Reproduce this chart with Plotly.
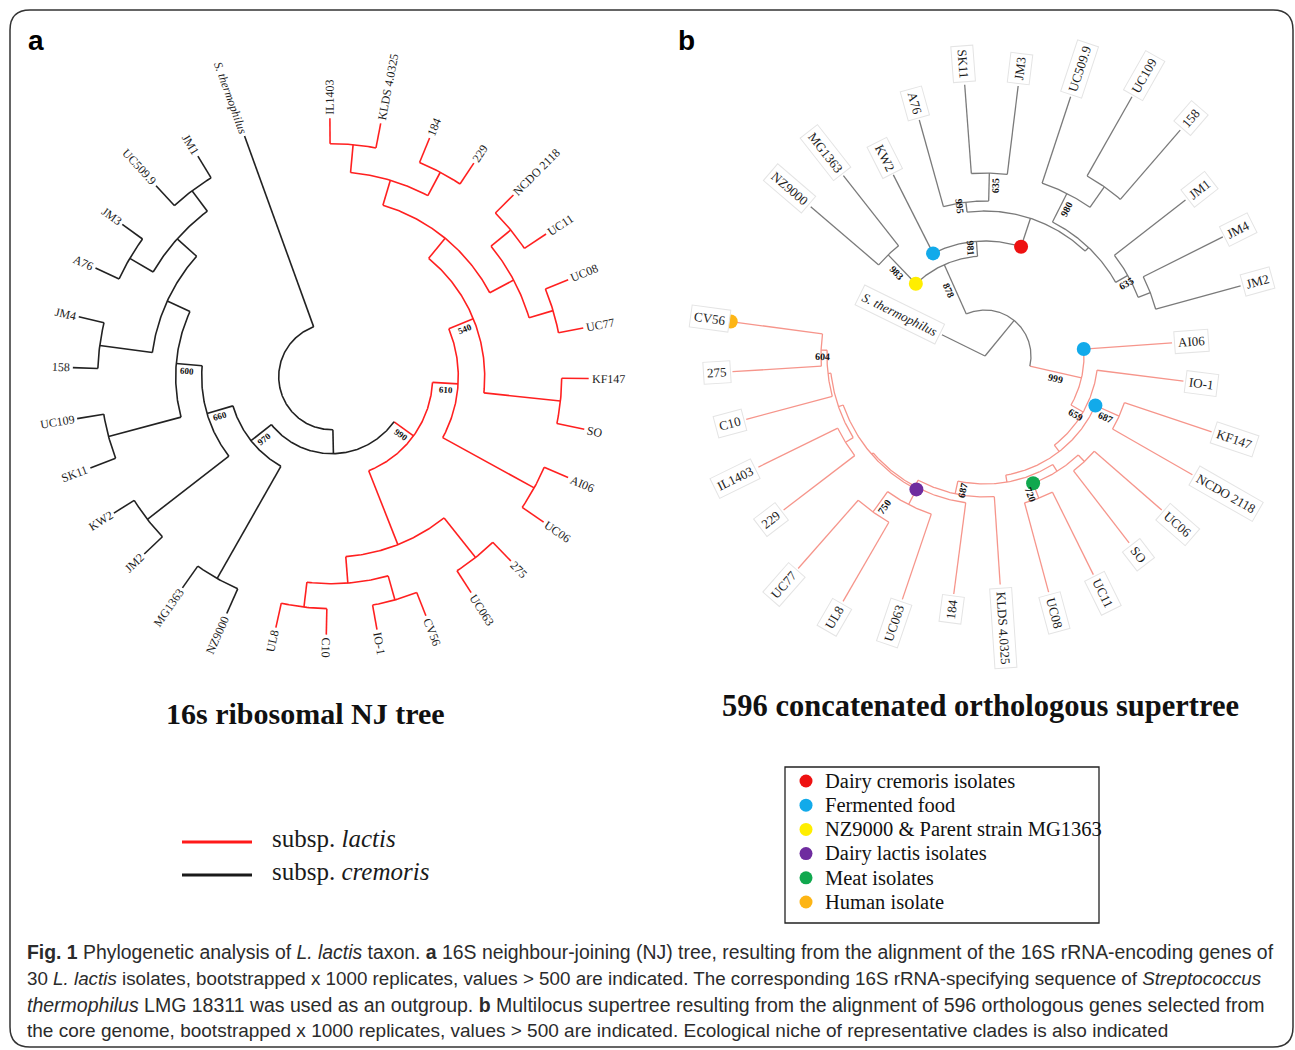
import math
import plotly.graph_objects as go

# ======================= DATA =======================
# ---- Tree a : 16S ribosomal NJ tree (clockwise leaf order) ----
A_LEAVES = ["IL1403", "KLDS 4.0325", "184", "229", "NCDO 2118", "UC11", "UC08", "UC77",
            "KF147", "SO", "AI06", "UC06", "275", "UC063", "CV56", "IO-1", "C10", "UL8",
            "NZ9000", "MG1363", "JM2", "KW2", "SK11", "UC109", "158", "JM4", "A76", "JM3",
            "UC509.9", "JM1", "S. thermophilus"]
A_NODES = ["root", "LL", "cre", "lac", "S. thermophilus",
           "c660", "MGNZ", "NZ9000", "MG1363", "KWJM2", "JM2", "KW2", "c600", "SKUC", "SK11", "UC109",
           "c205", "J4_158", "158", "JM4", "cUp", "A76JM3", "A76", "JM3", "U509JM1", "UC509.9", "JM1",
           "l610", "ln180", "l540", "AIUC06", "AI06", "UC06", "KFSO", "KF147", "SO", "lA", "lA1", "ILKL",
           "IL1403", "KLDS 4.0325", "P184_229", "184", "229", "lA2", "NCUC11", "NCDO 2118", "UC11",
           "UC08_77", "UC08", "UC77",
           "P275_063", "275", "UC063", "ln206", "IOCV", "IO-1", "CV56", "ULC10", "UL8", "C10"]
A_PARENTS = [None, "root", "LL", "LL", "root",
             "cre", "cre", "MGNZ", "MGNZ", "c660", "KWJM2", "KWJM2", "c660", "c600", "SKUC", "SKUC",
             "c600", "c205", "J4_158", "J4_158", "c205", "cUp", "A76JM3", "A76JM3", "cUp", "U509JM1", "U509JM1",
             "lac", "lac", "l610", "l610", "AIUC06", "AIUC06", "l540", "KFSO", "KFSO", "l540", "lA", "lA1",
             "ILKL", "ILKL", "lA1", "P184_229", "P184_229", "lA", "lA2", "NCUC11", "NCUC11",
             "lA2", "UC08_77", "UC08_77",
             "ln180", "P275_063", "P275_063", "ln180", "ln206", "IOCV", "IOCV", "ln206", "ULC10", "ULC10"]
# distance from the tree centre (tree units)
A_DEPTHS = [53, 77, 103, 101, 256,
            130, 232, 259, 258.6, 233, 258, 257, 156, 231, 258, 258,
            181, 234, 259, 260, 207, 234, 260, 259, 232.5, 259.5, 258,
            126.6, 180.5, 153, 231, 257, 257, 230, 257, 258, 179, 205, 233,
            258.4, 258, 231.5, 258, 256.5, 206, 231.5, 257, 257.5,
            231, 255.6, 256.2,
            231, 257, 257, 207, 232, 257, 257, 232, 257, 258]
A_BOOT_NODES = ["cre", "lac", "c660", "c600", "l610", "l540"]
A_BOOT_VALUES = [970, 990, 660, 600, 610, 540]

# ---- Tree b : 596 concatenated orthologous supertree ----
B_LEAVES = ["NZ9000", "MG1363", "KW2", "A76", "SK11", "JM3", "UC509.9", "UC109", "158", "JM1",
            "JM4", "JM2", "AI06", "IO-1", "KF147", "NCDO 2118", "UC06", "SO", "UC11", "UC08",
            "KLDS 4.0325", "184", "UC063", "UL8", "UC77", "229", "IL1403", "C10", "275", "CV56",
            "S. thermophilus"]
B_NODES = ["root", "S. thermophilus", "LL", "c878", "l999",
           "c983", "NZ9000", "MG1363", "c981", "KW2", "cRed", "c995", "A76", "c635a", "SK11", "JM3",
           "cOth", "c980", "UC509.9", "cU158", "UC109", "158", "c635b", "JM1", "cJM", "JM4", "JM2",
           "AI06", "l659", "IO-1", "lN1", "l687", "KF147", "NCDO 2118", "lN3", "lN2", "lUCSO", "UC06", "SO",
           "l720", "UC11", "UC08", "lN4", "KLDS 4.0325", "lN5", "184", "lN8", "lN7", "UC063", "l750",
           "UL8", "UC77", "lL", "lIL229", "229", "IL1403", "lLC", "C10", "l604", "275", "CV56"]
B_PARENTS = [None, "root", "root", "LL", "LL",
             "c878", "c983", "c983", "c878", "c981", "c981", "cRed", "c995", "c995", "c635a", "c635a",
             "cRed", "cOth", "c980", "c980", "cU158", "cU158", "cOth", "c635b", "c635b", "cJM", "cJM",
             "l999", "l999", "l659", "l659", "lN1", "l687", "l687", "lN1", "lN3", "lN2", "lUCSO", "lUCSO",
             "lN2", "l720", "l720", "lN3", "lN4", "lN4", "lN5", "lN5", "lN8", "lN7", "lN7",
             "l750", "l750", "lN8", "lL", "lIL229", "lIL229", "lL", "lLC", "lLC", "l604", "l604"]
B_DEPTHS = [0, 48, 46, 100, 99,
            140, 229.5, 229.4, 115, 203, 145, 155, 245, 183, 272, 272,
            150, 182, 273, 207, 298, 298.5, 164, 254, 177, 266, 265,
            187.5, 113, 200, 121, 147, 239, 239, 128, 136, 145, 234.5, 236,
            152, 244, 244.5, 141, 229, 148, 240, 150, 167, 257, 192,
            283.5, 283, 155, 164, 253.5, 252.4, 158, 247, 164, 253, 256.6]
B_BOOT_NODES = ["c878", "l999", "c983", "c981", "c995", "c635a", "c980", "c635b",
                "l659", "l687", "l720", "lN4", "l750", "l604"]
B_BOOT_VALUES = [878, 999, 983, 981, 995, 635, 980, 635, 659, 687, 720, 687, 750, 604]

# ecological niche markers (tree b)
B_DOT_NODES = ["cRed", "KW2", "AI06", "l687", "c983", "lN7", "l720", "CV56"]
B_DOT_CATS = [0, 1, 1, 1, 2, 3, 4, 5]
B_DOT_AT_TIP = [False, False, False, False, False, False, False, True]

LEGEND_A_LABELS = ["subsp. <i>lactis</i>", "subsp. <i>cremoris</i>"]
LEGEND_A_COLORS = ["#ff1a1a", "#1a1a1a"]
LEGEND_B_LABELS = ["Dairy cremoris isolates", "Fermented food", "NZ9000 &amp; Parent strain MG1363",
                   "Dairy lactis isolates", "Meat isolates", "Human isolate"]
LEGEND_B_COLORS = ["#ee1111", "#12aaea", "#ffee00", "#6f2c9f", "#10a84e", "#fdb515"]

TITLE_A = "16s ribosomal NJ tree"
TITLE_B = "596 concatenated orthologous supertree"
CAPTION = [
    "<b>Fig. 1</b> Phylogenetic analysis of <i>L. lactis</i> taxon. <b>a</b> 16S neighbour-joining (NJ) tree, resulting from the alignment of the 16S rRNA-encoding genes of",
    "30 <i>L. lactis</i> isolates, bootstrapped x 1000 replicates, values &gt; 500 are indicated. The corresponding 16S rRNA-specifying sequence of <i>Streptococcus</i>",
    "<i>thermophilus</i> LMG 18311 was used as an outgroup. <b>b</b> Multilocus supertree resulting from the alignment of 596 orthologous genes selected from",
    "the core genome, bootstrapped x 1000 replicates, values &gt; 500 are indicated. Ecological niche of representative clades is also indicated",
]

# ======================= LAYOUT CONSTANTS =======================
SERIF = "Liberation Serif, Times New Roman, serif"
SANS = "Liberation Sans, Arial, sans-serif"
CAPTION_SIZES = [19.4, 18.8, 19.5, 19.0]

A_CENTER = (331.7, 376.7)
A_THETA0, A_STEP, A_GAP = -90.4, 11.35, 1.0
B_CENTER = (985.0, 356.0)
B_THETA0, B_STEP, B_GAP = -139.4, 11.28, 1.64


def text_width(s, size):
    w = 0.0
    for ch in s:
        if ch.isdigit():
            w += 0.5
        elif ch in "MW":
            w += 0.89
        elif ch in "IJ":
            w += 0.36
        elif ch.isupper():
            w += 0.68
        elif ch in "il.,":
            w += 0.27
        elif ch == " ":
            w += 0.25
        elif ch == "-":
            w += 0.33
        elif ch in "mw":
            w += 0.75
        elif ch in "rtfs":
            w += 0.37
        else:
            w += 0.48
    return w * size


def build(nodes, parents, leaves, theta0, step, gap):
    par = dict(zip(nodes, parents))
    children = {n: [] for n in nodes}
    for n, p in zip(nodes, parents):
        if p is not None:
            children[p].append(n)
    nl = len(leaves)
    slot = {name: (i if i < nl - 1 else nl - 2 + gap) for i, name in enumerate(leaves)}
    theta, first = {}, {}

    def visit(n):
        if not children[n]:
            theta[n] = theta0 + step * slot[n]
            first[n] = slot[n]
            return
        for c in children[n]:
            visit(c)
        children[n].sort(key=lambda c: first[c])
        first[n] = first[children[n][0]]
        theta[n] = 0.5 * (theta[children[n][0]] + theta[children[n][-1]])

    root = nodes[parents.index(None)]
    visit(root)
    return par, children, theta


def polar(c, r, t):
    a = math.radians(t)
    return c[0] + r * math.cos(a), c[1] + r * math.sin(a)


def in_clade(n, top, par):
    while n is not None:
        if n == top:
            return True
        n = par[n]
    return False


fig = go.Figure()
annotations = []


def draw_tree(nodes, parents, depths, leaves, theta0, step, gap, center, clade_top,
              col_in, col_out, lw, leaf_size, boxed, boot_nodes, boot_vals, boot_size):
    par, children, theta = build(nodes, parents, leaves, theta0, step, gap)
    dep = dict(zip(nodes, depths))
    segs = {col_in: ([], []), col_out: ([], [])}
    for n in nodes:
        col = col_in if in_clade(n, clade_top, par) else col_out
        xs, ys = segs[col]
        if par[n] is not None:
            p0 = polar(center, dep[par[n]], theta[n])
            p1 = polar(center, dep[n], theta[n])
            xs += [p0[0], p1[0], None]
            ys += [p0[1], p1[1], None]
        if children[n] and dep[n] > 0:
            t0, t1 = theta[children[n][0]], theta[children[n][-1]]
            k = max(2, int(abs(t1 - t0) / 0.5) + 1)
            for j in range(k + 1):
                p = polar(center, dep[n], t0 + (t1 - t0) * j / k)
                xs.append(p[0])
                ys.append(p[1])
            xs.append(None)
            ys.append(None)
    for col, (xs, ys) in segs.items():
        fig.add_trace(go.Scatter(x=xs, y=ys, mode="lines", line=dict(color=col, width=lw),
                                 hoverinfo="skip"))
    # leaf labels
    for name in leaves:
        t = theta[name]
        tn = (t + 180) % 360 - 180
        c = math.cos(math.radians(tn))
        phi = tn if c >= -0.03 else tn - 180
        italic = name.startswith("S. ")
        w = text_width(name, leaf_size) * (0.97 if italic else 1.0)
        extra = 6 if boxed else 3
        d = dep[name] + extra + w / 2
        x, y = polar(center, d, t)
        txt = "<i>%s</i>" % name if italic else name
        ann = dict(x=x, y=y, xref="x", yref="y", text=txt, showarrow=False, textangle=phi,
                   xanchor="center", yanchor="middle",
                   font=dict(family=SERIF, size=leaf_size, color="#1c1c1c"))
        if boxed:
            ann.update(bgcolor="white", bordercolor="#e4e4e4", borderwidth=1, borderpad=3)
        annotations.append(ann)
    # bootstrap values
    for n, v in zip(boot_nodes, boot_vals):
        t = theta[n]
        tn = (t + 180) % 360 - 180
        phi = tn if math.cos(math.radians(tn)) >= 0 else tn - 180
        rm = 0.5 * (dep[par[n]] + dep[n]) + 1.5
        x, y = polar(center, rm, t)
        a = math.radians(phi)
        x += -math.sin(a) * 6.5
        y += math.cos(a) * 6.5
        annotations.append(dict(x=x, y=y, xref="x", yref="y", text="<b>%d</b>" % v, showarrow=False,
                                textangle=phi, xanchor="center", yanchor="middle",
                                font=dict(family=SERIF, size=boot_size, color="#111111")))
    return par, theta, dep


# ---- tree a ----
draw_tree(A_NODES, A_PARENTS, A_DEPTHS, A_LEAVES, A_THETA0, A_STEP, A_GAP, A_CENTER, "lac",
          "#ff2020", "#222222", 1.6, 12, False, A_BOOT_NODES, A_BOOT_VALUES, 9)

# ---- tree b ----
bpar, btheta, bdep = draw_tree(B_NODES, B_PARENTS, B_DEPTHS, B_LEAVES, B_THETA0, B_STEP, B_GAP,
                               B_CENTER, "l999", "#f6958b", "#7a7a7a", 1.3, 13, True,
                               B_BOOT_NODES, B_BOOT_VALUES, 10)

# niche markers
dx, dy, dc = [], [], []
for n, cat, tip in zip(B_DOT_NODES, B_DOT_CATS, B_DOT_AT_TIP):
    r = bdep[n] if tip else bdep[bpar[n]]
    p = polar(B_CENTER, r, btheta[n])
    dx.append(p[0])
    dy.append(p[1])
    dc.append(LEGEND_B_COLORS[cat])
fig.add_trace(go.Scatter(x=dx, y=dy, mode="markers", marker=dict(size=14, color=dc, line=dict(width=0)),
                         hoverinfo="skip"))

# ---- legend a ----
for i, (lab, col) in enumerate(zip(LEGEND_A_LABELS, LEGEND_A_COLORS)):
    yy = 842 + 33 * i
    fig.add_trace(go.Scatter(x=[182, 252], y=[yy, yy], mode="lines", line=dict(color=col, width=3),
                             hoverinfo="skip"))
    annotations.append(dict(x=270, y=yy - 4, xref="x", yref="y", text=lab, showarrow=False,
                            xanchor="left", yanchor="middle",
                            font=dict(family=SERIF, size=25, color="#1a1a1a")))

# ---- legend b ----
ly = [781 + 24.2 * i for i in range(len(LEGEND_B_LABELS))]
fig.add_trace(go.Scatter(x=[806] * len(ly), y=ly, mode="markers",
                         marker=dict(size=13, color=LEGEND_B_COLORS), hoverinfo="skip"))
for lab, yy in zip(LEGEND_B_LABELS, ly):
    annotations.append(dict(x=823, y=yy, xref="x", yref="y", text=lab, showarrow=False,
                            xanchor="left", yanchor="middle",
                            font=dict(family=SERIF, size=20.5, color="#111111")))

# ---- titles, panel letters ----
annotations.append(dict(x=305, y=713, xref="x", yref="y", text="<b>%s</b>" % TITLE_A, showarrow=False,
                        xanchor="center", yanchor="middle", font=dict(family=SERIF, size=30, color="#111")))
annotations.append(dict(x=980, y=706, xref="x", yref="y", text="<b>%s</b>" % TITLE_B, showarrow=False,
                        xanchor="center", yanchor="middle", font=dict(family=SERIF, size=30.5, color="#111")))
annotations.append(dict(x=36, y=40, xref="x", yref="y", text="<b>a</b>", showarrow=False,
                        xanchor="center", yanchor="middle", font=dict(family=SANS, size=28, color="#000")))
annotations.append(dict(x=686, y=40, xref="x", yref="y", text="<b>b</b>", showarrow=False,
                        xanchor="center", yanchor="middle", font=dict(family=SANS, size=28, color="#000")))

# ---- caption ----
for i, (line, fs) in enumerate(zip(CAPTION, CAPTION_SIZES)):
    annotations.append(dict(x=25, y=952 + 26.3 * i, xref="x", yref="y", text=line, showarrow=False,
                            xanchor="left", yanchor="middle",
                            font=dict(family="Liberation Sans", size=fs, color="#2b2b2b")))

shapes = [
    dict(type="rect", xref="x", yref="y", x0=785, y0=767, x1=1099, y1=923,
         line=dict(color="#222222", width=1.3)),
    dict(type="path", xref="x", yref="y",
         path="M 30 10 L 1273 10 Q 1293 10 1293 30 L 1293 1027 Q 1293 1047 1273 1047 "
              "L 30 1047 Q 10 1047 10 1027 L 10 30 Q 10 10 30 10 Z",
         line=dict(color="#333333", width=1.5)),
]

fig.update_layout(
    width=1295, height=1050, margin=dict(l=0, r=0, t=0, b=0),
    paper_bgcolor="white", plot_bgcolor="white", showlegend=False,
    xaxis=dict(range=[0, 1295], visible=False, fixedrange=True),
    yaxis=dict(range=[1050, 0], visible=False, fixedrange=True),
    annotations=annotations, shapes=shapes,
)

fig.write_html("out.html", config={"displayModeBar": False},
               post_script="document.body.style.margin='0px';document.body.style.overflow='hidden';")
